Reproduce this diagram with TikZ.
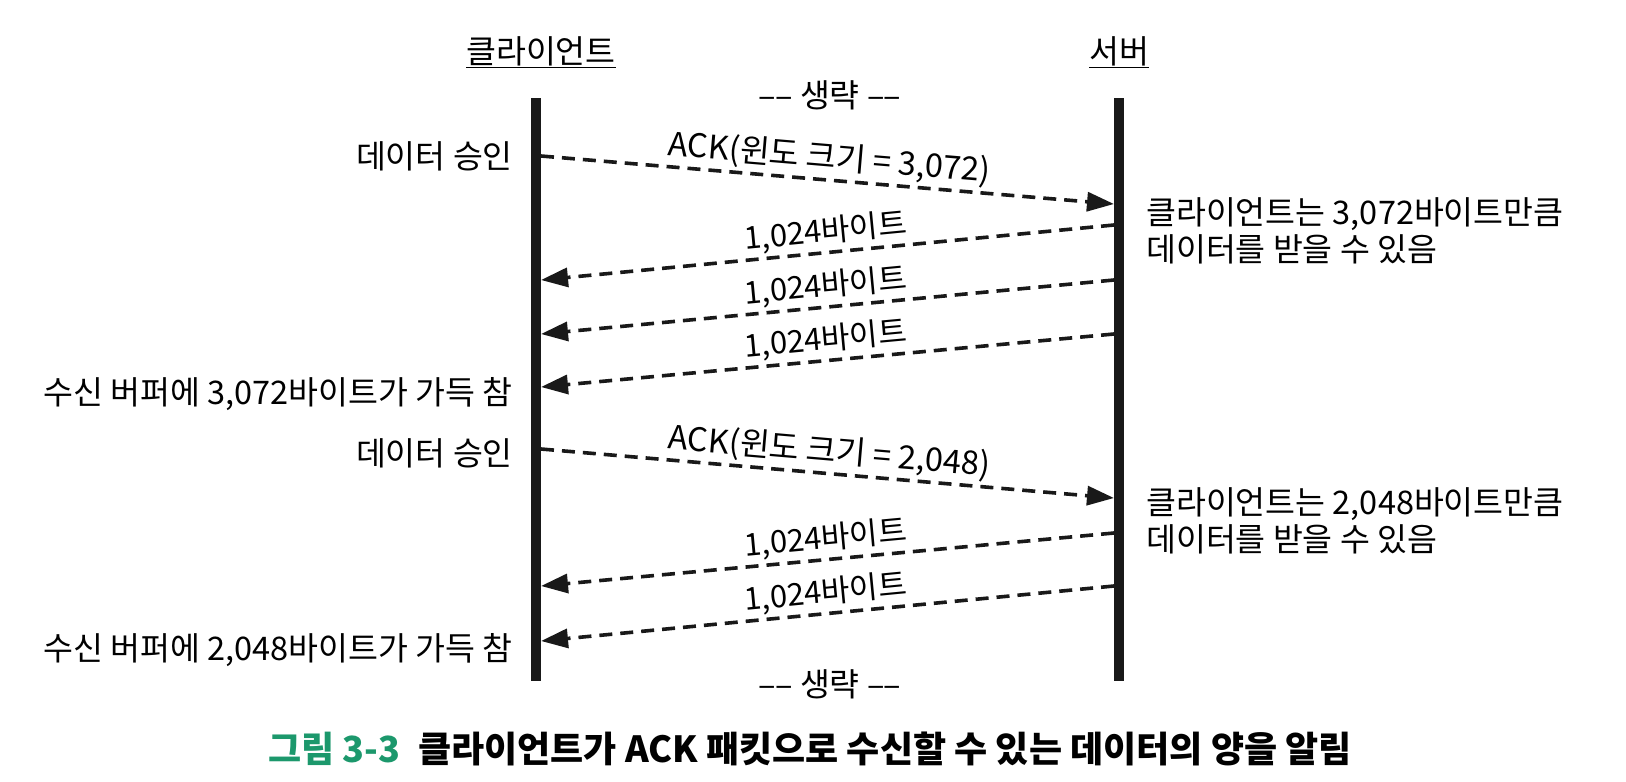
\documentclass[tikz,border=0pt]{standalone}
\usepackage{fontspec}
\setmainfont{Noto Sans CJK KR}
\usetikzlibrary{arrows.meta}
\definecolor{capgreen}{RGB}{28,152,108}
\tikzset{
  lbl/.style={inner sep=0pt, font=\fontsize{32.5}{37}\selectfont},
  lifeline/.style={line width=10pt, draw=black!90},
  msg/.style={line width=3.6pt, dash pattern=on 13pt off 8pt, -{Triangle[length=27pt,width=19pt]}, draw=black!90},
  msglbl/.style={inner sep=0pt, font=\fontsize{31}{36}\selectfont, sloped, above=3pt},
}
\begin{document}
\begin{tikzpicture}[x=1pt,y=-1pt]
\useasboundingbox (0,0) rectangle (1626,782);
% headers
\node[lbl] (hc) at (541,52) {\underline{클라이언트}};
\node[lbl] (hs) at (1119,52) {\underline{서버}};
\node[lbl] (om1) at (830,95) {–\kern-1pt– 생략 –\kern-1pt–};
\node[lbl] (om2) at (830,684) {–\kern-1pt– 생략 –\kern-1pt–};
% lifelines
\coordinate (ct) at (536,98);
\coordinate (cb) at (536,681);
\coordinate (st) at (1119,98);
\coordinate (sb) at (1119,681);
\draw[lifeline] (ct) -- (cb);
\draw[lifeline] (st) -- (sb);
% message end points
\coordinate (a1c) at (541,156);  \coordinate (a1s) at (1114,204);
\coordinate (d1s) at (1114,225); \coordinate (d1c) at (541,280);
\coordinate (d2s) at (1114,280); \coordinate (d2c) at (541,334);
\coordinate (d3s) at (1114,334); \coordinate (d3c) at (541,387);
\coordinate (a2c) at (541,449);  \coordinate (a2s) at (1114,498);
\coordinate (d4s) at (1114,533); \coordinate (d4c) at (541,586);
\coordinate (d5s) at (1114,586); \coordinate (d5c) at (541,641);
% messages
\draw[msg] (a1c) -- node[msglbl, font=\fontsize{32.5}{37}\selectfont] {ACK(윈도 크기 = 3,072)} (a1s);
\draw[msg] (d1s) -- node[msglbl] {1,024바이트} (d1c);
\draw[msg] (d2s) -- node[msglbl] {1,024바이트} (d2c);
\draw[msg] (d3s) -- node[msglbl] {1,024바이트} (d3c);
\draw[msg] (a2c) -- node[msglbl, font=\fontsize{32.5}{37}\selectfont] {ACK(윈도 크기 = 2,048)} (a2s);
\draw[msg] (d4s) -- node[msglbl] {1,024바이트} (d4c);
\draw[msg] (d5s) -- node[msglbl] {1,024바이트} (d5c);
% left notes
\node[lbl, anchor=east] (n1) at (513,156) {데이터 승인};
\node[lbl, anchor=east] (n2) at (513,394) {수신 버퍼에 3,072바이트가 가득 참};
\node[lbl, anchor=east] (n3) at (513,453) {데이터 승인};
\node[lbl, anchor=east] (n4) at (513,650) {수신 버퍼에 2,048바이트가 가득 참};
% right notes
\node[lbl, anchor=west, align=left] (r1) at (1146,231) {클라이언트는 3,072바이트만큼\\데이터를 받을 수 있음};
\node[lbl, anchor=west, align=left] (r2) at (1146,521) {클라이언트는 2,048바이트만큼\\데이터를 받을 수 있음};
% caption
\node[inner sep=0pt, font=\fontsize{36}{40}\selectfont\bfseries] (cap) at (810,749)
  {\textcolor{capgreen}{그림 3-3}\hspace{0.5em}클라이언트가 ACK 패킷으로 수신할 수 있는 데이터의 양을 알림};
\end{tikzpicture}
\end{document}
